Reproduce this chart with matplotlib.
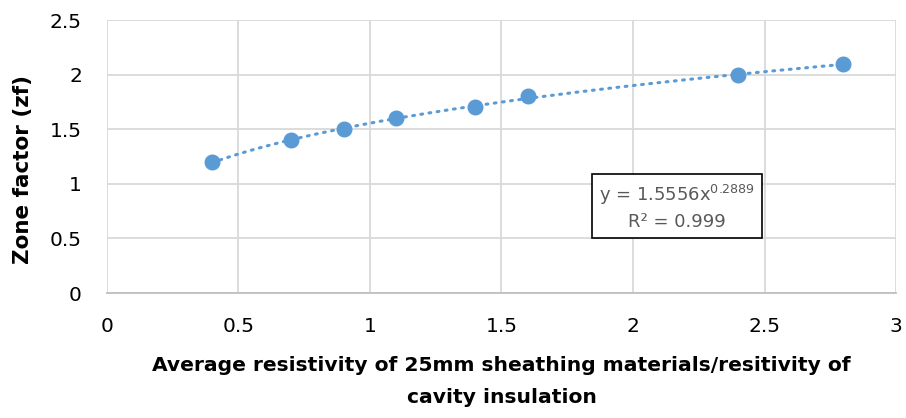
import numpy as np
import matplotlib.pyplot as plt

plt.rcParams['font.family'] = ['DejaVu Sans']

# data
ratio = [0.4, 0.7, 0.9, 1.1, 1.4, 1.6, 2.4, 2.8]
zone_factor = [1.2, 1.4, 1.5, 1.6, 1.7, 1.8, 2.0, 2.1]

# power trendline from the label
coef_a = 1.5556
coef_b = 0.2889
r_squared = 0.999

blue = '#5B9BD5'
grey = '#595959'

fig = plt.figure(figsize=(9.06, 4.18), dpi=100)
ax = fig.add_axes([0.118, 0.299, 0.871, 0.653])

xs = np.linspace(min(ratio), max(ratio), 200)
ax.plot(xs, coef_a * xs ** coef_b, color=blue, lw=2.2, ls=(0, (0.6, 2.1)),
        dash_capstyle='round', zorder=2)
ax.plot(ratio, zone_factor, 'o', color=blue, ms=10.5, zorder=3)

ax.set_xlim(0, 3)
ax.set_ylim(0, 2.5)
ax.set_xticks(np.arange(0, 3.01, 0.5))
ax.set_yticks(np.arange(0, 2.51, 0.5))
ax.set_xticklabels(['0', '0.5', '1', '1.5', '2', '2.5', '3'])
ax.set_yticklabels(['0', '0.5', '1', '1.5', '2', '2.5'])
ax.grid(True, color='#D9D9D9', lw=1.3)
ax.set_axisbelow(True)
for s in ['top', 'right', 'left']:
    ax.spines[s].set_visible(False)
ax.spines['bottom'].set_color('#BFBFBF')
ax.spines['bottom'].set_linewidth(1.3)
ax.tick_params(length=0, labelsize=14.5, colors='black')
ax.tick_params(axis='x', pad=17)
ax.tick_params(axis='y', pad=18)

ax.set_xlabel('Average resistivity of 25mm sheathing materials/resitivity of\ncavity insulation',
              fontsize=14.6, fontweight='bold', linespacing=1.85)
ax.xaxis.set_label_coords(0.5, -0.232)
ax.set_ylabel('Zone factor (zf)', fontsize=15.5, fontweight='bold')
ax.yaxis.set_label_coords(-0.094, 0.454)

ax.text(2.167, 0.79, 'y = 1.5556x$^{0.2889}$\nR² = 0.999', fontsize=13, color=grey,
        ha='center', va='center', linespacing=1.4,
        bbox=dict(boxstyle='square,pad=0.4', fc='white', ec='black', lw=1.2))

fig.savefig('out.png', dpi=100)
